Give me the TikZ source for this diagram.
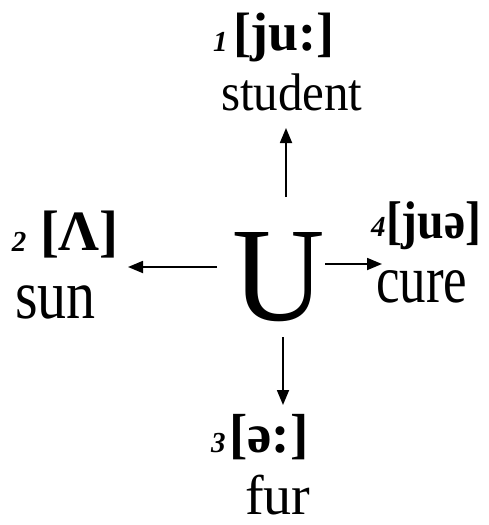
\documentclass[tikz,border=0pt]{standalone}
\usepackage{fontspec}
\setmainfont{Liberation Serif}
\usetikzlibrary{arrows.meta}
\tikzset{
  lbl/.style={anchor=base west, inner sep=0pt, outer sep=0pt},
  num/.style={anchor=base west, inner sep=0pt, outer sep=0pt, font=\fontsize{29}{29}\selectfont\bfseries\itshape},
  arr/.style={line width=1.8pt, -{Triangle[length=15pt,width=12pt]}},
}
\begin{document}
\begin{tikzpicture}[x=1pt,y=-1pt]
\useasboundingbox (0,0) rectangle (488,525);
% central letter
\node[lbl] (U) at (232,320) {\scalebox{1}[1.05]{\fontsize{128}{128}\selectfont U}};
% top
\node[num] (n1) at (213,51) {1};
\node[lbl] (p1) at (233,50) {\fontsize{54}{54}\selectfont\bfseries [ju:]};
\node[lbl] (w1) at (221,110) {\scalebox{1}[1.08]{\fontsize{49}{49}\selectfont student}};
% left
\node[num] (n2) at (12,251) {2};
\node[lbl] (p2) at (40,250) {\fontsize{57}{57}\selectfont\bfseries [Λ]};
\node[lbl] (w2) at (15,318) {\scalebox{1}[1.2]{\fontsize{58}{58}\selectfont sun}};
% right
\node[num] (n4) at (371,236) {4};
\node[lbl] (p4) at (386,238) {\scalebox{0.9}[1]{\fontsize{53}{53}\selectfont\bfseries [juə]}};
\node[lbl] (w4) at (376,302) {\scalebox{1}[1.28]{\fontsize{53}{53}\selectfont cure}};
% bottom
\node[num] (n3) at (211,452) {3};
\node[lbl] (p3) at (229,452) {\fontsize{55}{55}\selectfont\bfseries [ə:]};
\node[lbl] (w3) at (245,514) {\fontsize{56}{56}\selectfont fur};
% arrow end points
\coordinate (tS) at (286,197); \coordinate (tE) at (286,128);
\coordinate (lS) at (217,267); \coordinate (lE) at (128,267);
\coordinate (rS) at (325,264); \coordinate (rE) at (382,264);
\coordinate (bS) at (283,337); \coordinate (bE) at (283,405);
\draw[arr] (tS) -- (tE);
\draw[arr] (lS) -- (lE);
\draw[arr] (rS) -- (rE);
\draw[arr] (bS) -- (bE);
\end{tikzpicture}
\end{document}
